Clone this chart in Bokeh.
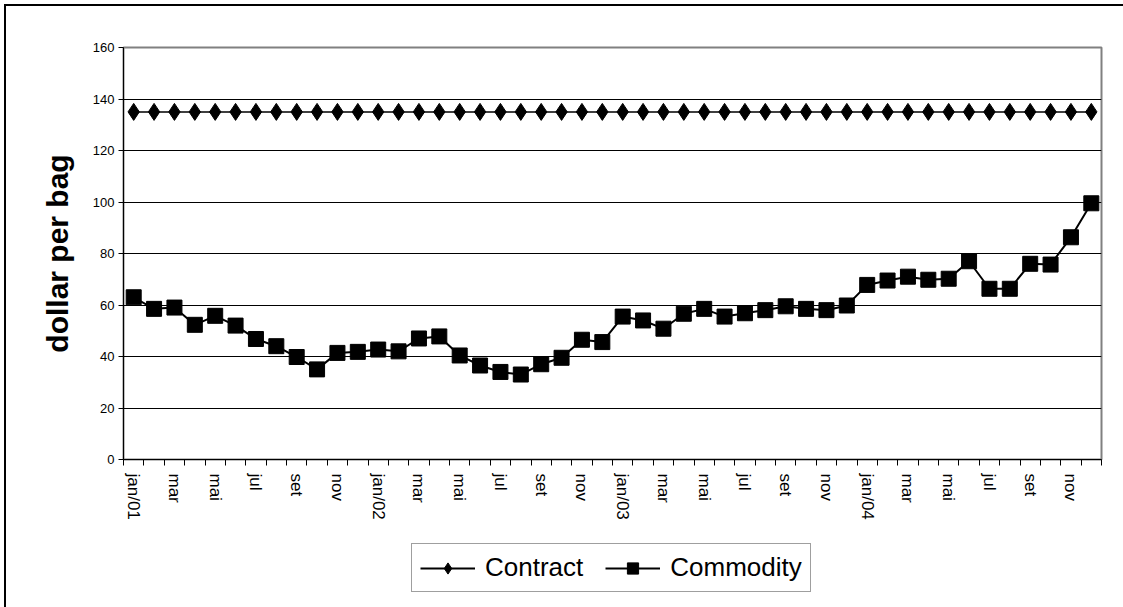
from bokeh.plotting import figure
from bokeh.layouts import column
from bokeh.models import Range1d, FixedTicker, Legend, LegendItem
from bokeh.embed import file_html
from bokeh.resources import INLINE

months = ["jan/01", "fev", "mar", "abr", "mai", "jun", "jul", "ago", "set", "out", "nov", "dez",
          "jan/02", "fev", "mar", "abr", "mai", "jun", "jul", "ago", "set", "out", "nov", "dez",
          "jan/03", "fev", "mar", "abr", "mai", "jun", "jul", "ago", "set", "out", "nov", "dez",
          "jan/04", "fev", "mar", "abr", "mai", "jun", "jul", "ago", "set", "out", "nov", "dez"]

contract = [135, 135, 135, 135, 135, 135, 135, 135, 135, 135, 135, 135,
            135, 135, 135, 135, 135, 135, 135, 135, 135, 135, 135, 135,
            135, 135, 135, 135, 135, 135, 135, 135, 135, 135, 135, 135,
            135, 135, 135, 135, 135, 135, 135, 135, 135, 135, 135, 135]

commodity = [63, 58.5, 59, 52.3, 55.8, 52, 46.8, 44, 39.8, 35, 41.4, 41.8,
             42.7, 42, 47, 47.8, 40.4, 36.5, 34, 33, 37, 39.5, 46.5, 45.6,
             55.5, 54, 50.8, 56.6, 58.5, 55.5, 56.8, 58, 59.5, 58.5, 58, 59.8,
             67.8, 69.5, 71, 69.8, 70.2, 77, 66.3, 66.3, 76, 75.7, 86.3, 99.5]

x_tick_labels = ["jan/01", "mar", "mai", "jul", "set", "nov",
                 "jan/02", "mar", "mai", "jul", "set", "nov",
                 "jan/03", "mar", "mai", "jul", "set", "nov",
                 "jan/04", "mar", "mai", "jul", "set", "nov"]

y_ticks = [0, 20, 40, 60, 80, 100, 120, 140, 160]

FONT = "Liberation Sans"

xs = list(range(len(months)))

# ---------------- main chart ----------------
p = figure(width=1117, height=530,
           x_range=Range1d(-0.5, len(months) - 0.5), y_range=Range1d(0, 160),
           output_backend="svg", toolbar_location=None,
           min_border_left=117, min_border_right=22, min_border_top=41, min_border_bottom=77)

p.outline_line_color = "#808080"
p.outline_line_width = 2
p.background_fill_color = "white"
p.border_fill_color = "white"

p.xgrid.grid_line_color = None
p.ygrid.grid_line_color = "#000000"
p.ygrid.grid_line_width = 1
p.ygrid.ticker = FixedTicker(ticks=y_ticks)

p.yaxis.ticker = FixedTicker(ticks=y_ticks)
p.yaxis.axis_line_color = "black"
p.yaxis.axis_line_width = 1
p.yaxis.major_tick_out = 5
p.yaxis.major_tick_in = 0
p.yaxis.minor_tick_line_color = None
p.yaxis.major_label_text_font = FONT
p.yaxis.major_label_text_font_size = "13px"
p.yaxis.major_label_text_color = "black"
p.yaxis.major_label_standoff = 4
p.yaxis.axis_label = "dollar per bag"
p.yaxis.axis_label_text_font = FONT
p.yaxis.axis_label_text_font_size = "30px"
p.yaxis.axis_label_text_font_style = "bold"
p.yaxis.axis_label_text_color = "black"
p.yaxis.axis_label_standoff = 16

major = xs[::2]
minor = [i - 0.5 for i in range(len(months) + 1)]
p.xaxis.ticker = FixedTicker(ticks=major, minor_ticks=minor)
p.xaxis.major_label_overrides = {i: lab for i, lab in zip(major, x_tick_labels)}
p.xaxis.axis_line_color = "black"
p.xaxis.major_tick_line_color = None
p.xaxis.major_tick_out = 6
p.xaxis.major_tick_in = 0
p.xaxis.minor_tick_line_color = "black"
p.xaxis.minor_tick_out = 6
p.xaxis.minor_tick_in = 0
p.xaxis.major_label_orientation = "vertical"
p.xaxis.major_label_text_font = FONT
p.xaxis.major_label_text_font_size = "17px"
p.xaxis.major_label_text_color = "black"
p.xaxis.major_label_standoff = 8

p.line(xs, contract, line_color="black", line_width=1.5)
p.scatter(xs, contract, marker="diamond", size=17, fill_color="black", line_color="black")
p.line(xs, commodity, line_color="black", line_width=2)
p.scatter(xs, commodity, marker="square", size=15, fill_color="black", line_color="black")

# ---------------- legend strip ----------------
q = figure(width=1117, height=71,
           x_range=Range1d(-0.5, len(months) - 0.5), y_range=Range1d(1000, 1001),
           output_backend="svg", toolbar_location=None,
           x_axis_location=None, y_axis_location=None,
           min_border_left=0, min_border_right=0, min_border_top=0, min_border_bottom=0)
q.outline_line_color = None
q.xgrid.grid_line_color = None
q.ygrid.grid_line_color = None
q.background_fill_color = "white"
q.border_fill_color = "white"

l1 = q.line(xs, contract, line_color="black", line_width=2)
m1 = q.scatter(xs, contract, marker="diamond", size=17, fill_color="black", line_color="black")
l2 = q.line(xs, commodity, line_color="black", line_width=2)
m2 = q.scatter(xs, commodity, marker="square", size=15, fill_color="black", line_color="black")

legend = Legend(items=[LegendItem(label="Contract", renderers=[l1, m1]),
                       LegendItem(label="Commodity", renderers=[l2, m2])],
                orientation="horizontal", location=(288, 15),
                label_text_font=FONT, label_text_font_size="26px", label_text_color="black",
                glyph_width=55, glyph_height=28, label_height=28, label_standoff=10,
                spacing=22, padding=8, margin=0,
                border_line_color="#404040", border_line_width=1,
                background_fill_color="white", background_fill_alpha=1.0)
q.add_layout(legend, "center")

layout = column(p, q, spacing=0)
layout.styles = {"margin-left": "4px", "margin-top": "4px",
                 "border-left": "2px solid black", "border-top": "2px solid black"}

open("out.html", "w").write(file_html(layout, INLINE))
